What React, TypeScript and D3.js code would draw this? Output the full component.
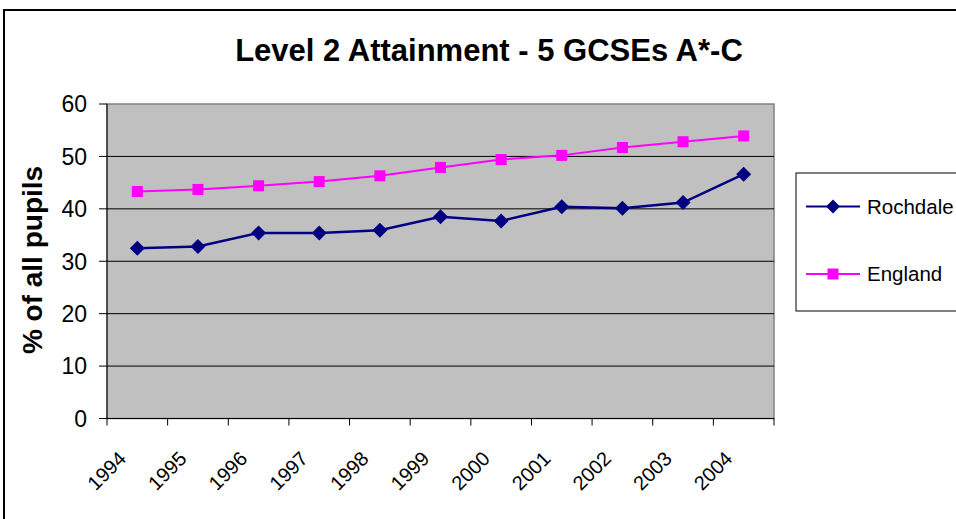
import React from "react";
import * as d3 from "d3";

const years = ["1994","1995","1996","1997","1998","1999","2000","2001","2002","2003","2004"];
const rochdale = [32.5, 32.8, 35.4, 35.4, 35.9, 38.5, 37.7, 40.4, 40.1, 41.2, 46.6];
const england = [43.3, 43.7, 44.4, 45.2, 46.3, 47.9, 49.4, 50.2, 51.7, 52.8, 53.9];
const yTicks = [0, 10, 20, 30, 40, 50, 60];
const seriesNames = ["Rochdale", "England"];

const W = 956, H = 519;
const plot = { left: 107, top: 104, right: 774, bottom: 418.5 };
const font = "'Liberation Sans', Arial, sans-serif";

export default function App() {
  const x = d3.scaleBand<string>().domain(years).range([plot.left, plot.right]);
  const y = d3.scaleLinear().domain([0, 60]).range([plot.bottom, plot.top]);
  const cx = (yr: string) => (x(yr) as number) + x.bandwidth() / 2;
  const line = d3.line<number>().x((_, i) => cx(years[i])).y((d) => y(d));
  const diamond = (px: number, py: number, r: number) =>
    `M${px},${py - r}L${px + r},${py}L${px},${py + r}L${px - r},${py}Z`;
  const tickXs = years.map((yr) => x(yr) as number).concat([plot.right]);

  return (
    <svg width={W} height={H} style={{ position: "absolute", left: 0, top: 0, background: "#fff" }} fontFamily={font}>
      <rect x={0} y={0} width={W} height={H} fill="#fff" />
      <rect x={4} y={10} width={W + 10} height={H + 10} fill="none" stroke="#000" strokeWidth={2} />
      <text x={489} y={61} textAnchor="middle" fontSize={31} fontWeight="bold">Level 2 Attainment - 5 GCSEs A*-C</text>

      <rect x={plot.left} y={plot.top} width={plot.right - plot.left} height={plot.bottom - plot.top} fill="#c0c0c0" stroke="#808080" strokeWidth={1.5} />
      {yTicks.filter((t) => t > 0 && t < 60).map((t) => (
        <line key={t} x1={plot.left} x2={plot.right} y1={y(t)} y2={y(t)} stroke="#000" strokeWidth={1} />
      ))}
      <line x1={plot.left} x2={plot.left} y1={plot.top} y2={plot.bottom} stroke="#000" strokeWidth={1} />
      <line x1={plot.left} x2={plot.right} y1={plot.bottom} y2={plot.bottom} stroke="#000" strokeWidth={1} />
      {yTicks.map((t) => (
        <g key={t}>
          <line x1={plot.left - 8} x2={plot.left} y1={y(t)} y2={y(t)} stroke="#000" />
          <text x={87} y={y(t)} dy="0.36em" textAnchor="end" fontSize={23}>{t}</text>
        </g>
      ))}
      {tickXs.map((tx, i) => (
        <line key={i} x1={tx} x2={tx} y1={plot.bottom} y2={plot.bottom + 7} stroke="#000" />
      ))}
      {years.map((yr) => (
        <text key={yr} transform={`translate(${cx(yr) - 10},${460}) rotate(-45)`} textAnchor="end" fontSize={20}>{yr}</text>
      ))}
      <text transform={`translate(42,${260}) rotate(-90)`} textAnchor="middle" fontSize={28} fontWeight="bold">% of all pupils</text>

      <path d={line(rochdale) || ""} fill="none" stroke="#000080" strokeWidth={2.5} />
      <path d={line(england) || ""} fill="none" stroke="#ff00ff" strokeWidth={2} />
      {rochdale.map((v, i) => (
        <path key={i} d={diamond(cx(years[i]), y(v), 7.5)} fill="#000080" />
      ))}
      {england.map((v, i) => (
        <rect key={i} x={cx(years[i]) - 5.5} y={y(v) - 5.5} width={11} height={11} fill="#ff00ff" />
      ))}

      <rect x={796} y={173} width={200} height={138} fill="#fff" stroke="#000" strokeWidth={1} />
      {seriesNames.map((n, i) => {
        const ly = i === 0 ? 206.5 : 274;
        const col = i === 0 ? "#000080" : "#ff00ff";
        return (
          <g key={n}>
            <line x1={806} x2={860} y1={ly} y2={ly} stroke={col} strokeWidth={2} />
            {i === 0 ? <path d={diamond(833, ly, 7)} fill={col} /> : <rect x={827.5} y={ly - 5.5} width={11} height={11} fill={col} />}
            <text x={867} y={ly} dy="0.36em" fontSize={20.5}>{n}</text>
          </g>
        );
      })}
    </svg>
  );
}
